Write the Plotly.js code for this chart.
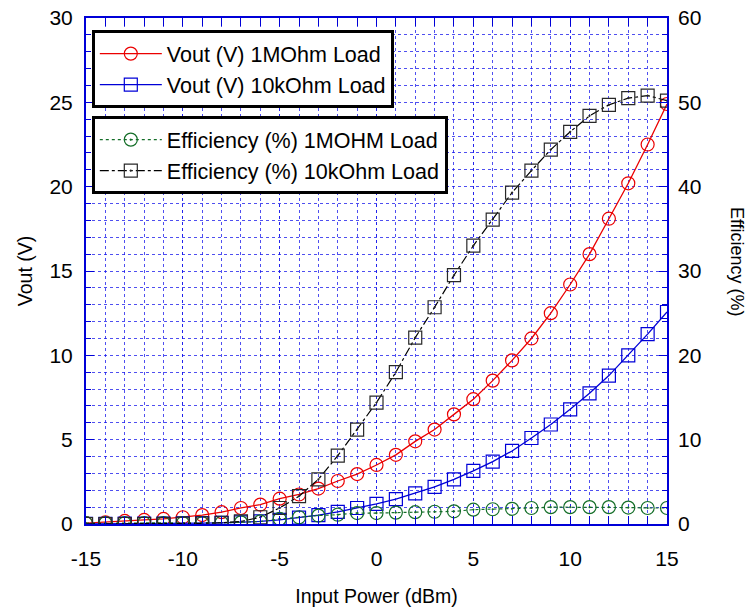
<!DOCTYPE html>
<html><head><meta charset="utf-8">
<script src="https://cdn.plot.ly/plotly-3.0.1.min.js"></script>
<style>html,body{margin:0;padding:0;background:#fff;}#chart{width:748px;height:607px;}</style>
</head><body><div id="chart"></div>
<script>
const inputPower = [-15,-14,-13,-12,-11,-10,-9,-8,-7,-6,-5,-4,-3,-2,-1,0,1,2,3,4,5,6,7,8,9,10,11,12,13,14,15];
const vout1MOhm = [0.05,0.1,0.18,0.24,0.3,0.4,0.53,0.7,0.95,1.15,1.5,1.75,2.1,2.55,2.96,3.5,4.1,4.9,5.6,6.5,7.4,8.5,9.7,11.0,12.5,14.2,16.0,18.1,20.2,22.5,24.9];
const vout10kOhm = [0.01,0.01,0.02,0.02,0.03,0.04,0.05,0.07,0.1,0.15,0.25,0.38,0.53,0.72,0.95,1.19,1.47,1.82,2.2,2.65,3.15,3.7,4.33,5.1,5.9,6.8,7.75,8.8,10.0,11.26,12.57];
const eff1MOhm = [0.1,0.1,0.1,0.1,0.1,0.1,0.1,0.15,0.2,0.3,0.6,0.8,1.0,1.1,1.3,1.3,1.35,1.4,1.45,1.5,1.7,1.75,1.8,1.9,2.0,2.0,2.0,2.0,1.95,1.9,1.9];
const eff10kOhm = [0,0,0,0,0.02,0.05,0.08,0.15,0.3,0.8,1.9,3.3,5.3,8.1,11.2,14.4,18.0,22.1,25.7,29.5,33.0,36.1,39.3,41.9,44.4,46.5,48.4,49.7,50.5,50.8,50.2];
const names = ['Vout (V) 1MOhm Load','Vout (V) 10kOhm Load','Efficiency (%) 1MOHM Load','Efficiency (%) 10kOhm Load'];
const xTickVals = [-15,-10,-5,0,5,10,15];
const xTickText = ['-15','-10','-5','0','5','10','15'];

const RED='rgb(235,0,0)', BLUE='rgb(0,0,215)', GREEN='rgb(20,110,40)', BLACK='rgb(0,0,0)';
const GRID='rgba(20,20,235,0.75)';
const GDASH='3px,3px';
const FONT='Liberation Sans, Arial, sans-serif';

const traces = [
 {x:inputPower,y:vout1MOhm,name:names[0],type:'scatter',mode:'lines+markers',legend:'legend',
  line:{color:RED,width:1.3},marker:{symbol:'circle-open',size:13,color:RED,line:{width:1.2,color:RED}},yaxis:'y'},
 {x:inputPower,y:vout10kOhm,name:names[1],type:'scatter',mode:'lines+markers',legend:'legend',
  line:{color:BLUE,width:1.3},marker:{symbol:'square-open',size:13,color:BLUE,line:{width:1.2,color:BLUE}},yaxis:'y'},
 {x:inputPower,y:eff1MOhm,name:names[2],type:'scatter',mode:'lines+markers',legend:'legend2',
  line:{color:GREEN,width:1.2,dash:'dot'},marker:{symbol:'circle-open-dot',size:13,color:GREEN,line:{width:1.2,color:GREEN}},yaxis:'y2'},
 {x:inputPower,y:eff10kOhm,name:names[3],type:'scatter',mode:'lines+markers',legend:'legend2',
  line:{color:BLACK,width:1.2,dash:'dashdot'},marker:{symbol:'square-open-dot',size:13,color:'rgb(40,40,40)',line:{width:1.2,color:'rgb(40,40,40)'}},yaxis:'y2'}
];

const legendCommon = {bgcolor:'#fff',bordercolor:'#000',borderwidth:3,font:{family:FONT,size:21.5},
  xref:'paper',yref:'paper',xanchor:'left',yanchor:'top',itemwidth:62,traceorder:'normal'};

const layout = {
 width:748,height:607,
 margin:{l:86,r:81,t:18,b:83},
 paper_bgcolor:'#fff',plot_bgcolor:'#fff',
 font:{family:FONT,size:20,color:'#000'},
 showlegend:true,
 legend:Object.assign({},legendCommon,{x:0.01,y:0.976}),
 legend2:Object.assign({},legendCommon,{x:0.01,y:0.806}),
 xaxis:{range:[-15,15],tickmode:'array',tickvals:xTickVals,ticktext:xTickText,showgrid:true,gridcolor:GRID,griddash:GDASH,gridwidth:1,
   ticks:'inside',ticklen:8,tickcolor:BLUE,showline:true,linecolor:BLUE,linewidth:2,mirror:'allticks',zeroline:false,
   ticklabelstandoff:15,
   minor:{dtick:1,tick0:0,showgrid:true,gridcolor:GRID,griddash:GDASH,gridwidth:1,ticks:'inside',ticklen:5,tickcolor:BLUE},
   title:{text:'Input Power (dBm)',font:{size:19.5},standoff:22},tickfont:{size:21}},
 yaxis:{range:[0,30],dtick:5,showgrid:true,gridcolor:GRID,griddash:GDASH,gridwidth:1,
   ticks:'inside',ticklen:8,tickcolor:BLUE,showline:true,linecolor:BLUE,linewidth:2,mirror:'allticks',zeroline:false,
   ticklabelstandoff:7,
   minor:{dtick:1,showgrid:true,gridcolor:GRID,griddash:GDASH,gridwidth:1,ticks:'inside',ticklen:5,tickcolor:BLUE},
   title:{text:'Vout (V)',font:{size:19.5},standoff:12},tickfont:{size:21}},
 yaxis2:{range:[0,60],dtick:10,overlaying:'y',side:'right',showgrid:false,zeroline:false,
   ticks:'',showline:false,ticklabelstandoff:10,tickfont:{size:21}},
 annotations:[{text:'Efficiency (%)',textangle:90,xref:'paper',yref:'paper',x:1.1205,y:0.518,xanchor:'center',yanchor:'middle',
   showarrow:false,font:{family:FONT,size:18,color:'#000'}}]
};

Plotly.newPlot('chart',traces,layout,{displayModeBar:false,staticPlot:true});
</script></body></html>
